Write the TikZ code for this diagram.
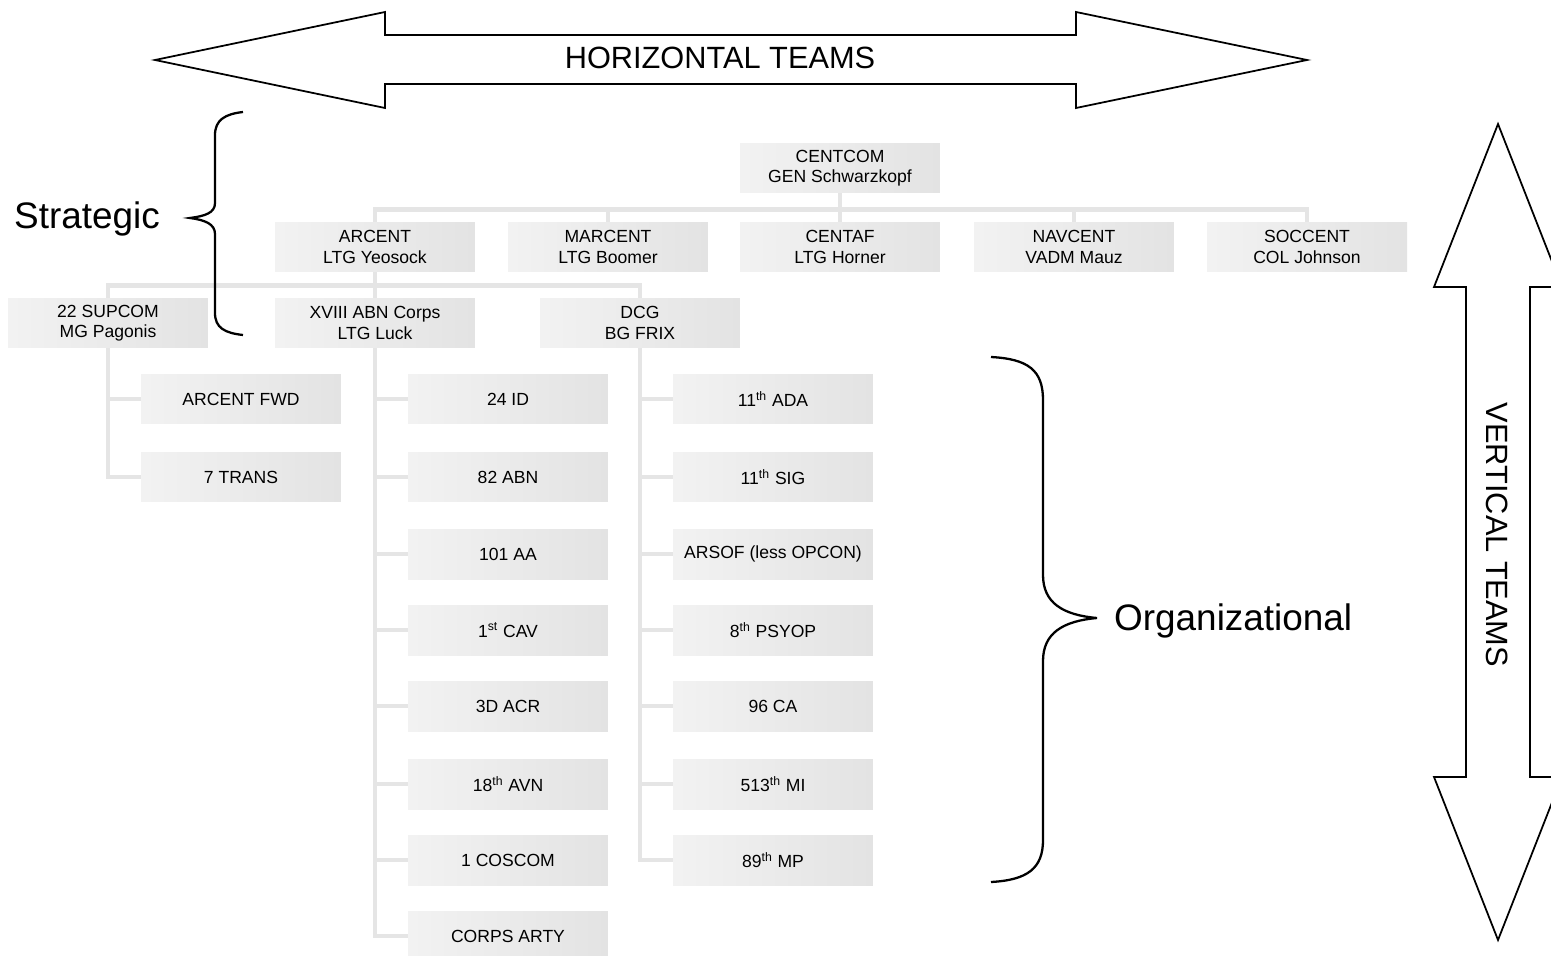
\documentclass[tikz,border=0pt]{standalone}
\usepackage{fontspec}
\setmainfont{Liberation Sans}

\tikzset{
  unit/.style={rectangle, left color=black!5, right color=black!11,
    minimum width=4cm, minimum height=1cm, inner sep=1pt, align=center,
    font=\fontsize{10}{11.5}\selectfont},
  link/.style={draw=black!10, line width=2.6pt},
  outline/.style={draw=black, line width=1pt, line join=miter},
  bracket/.style={draw=black, line width=1.3pt},
}

\begin{document}
\begin{tikzpicture}[x=0.02cm, y=-0.02cm]

    % Page frame, in pixels of the reference
    \useasboundingbox (0,0) rectangle (1551,956);
    \clip (0,0) rectangle (1551,956);

    % Horizontal double arrow
    \draw[outline] (155,60) -- (385,12) -- (385,35) -- (1076,35) -- (1076,12)
        -- (1307,60) -- (1076,108) -- (1076,84) -- (385,84) -- (385,108) -- cycle;
    \node[font=\fontsize{17.5}{20}\selectfont] (htext) at (720,58) {HORIZONTAL TEAMS};

    % Vertical double arrow (runs off the right edge)
    \draw[outline] (1498,124) -- (1562,287) -- (1530,287) -- (1530,777) -- (1562,777)
        -- (1498,940) -- (1434,777) -- (1466,777) -- (1466,287) -- (1434,287) -- cycle;
    \node[rotate=-90, font=\fontsize{17.5}{20}\selectfont] (vtext) at (1497,535) {VERTICAL TEAMS};

    % Top of the chart
    \node[unit] (centcom) at (840,168) {CENTCOM\\GEN Schwarzkopf};

    % Components
    \node[unit] (arcent)  at (375,247)  {ARCENT\\LTG Yeosock};
    \node[unit] (marcent) at (608,247)  {MARCENT\\LTG Boomer};
    \node[unit] (centaf)  at (840,247)  {CENTAF\\LTG Horner};
    \node[unit] (navcent) at (1074,247) {NAVCENT\\VADM Mauz};
    \node[unit] (soccent) at (1307,247) {SOCCENT\\COL Johnson};

    % Under ARCENT
    \node[unit] (supcom) at (108,323) {22 SUPCOM\\MG Pagonis};
    \node[unit] (corps)  at (375,323) {XVIII ABN Corps\\LTG Luck};
    \node[unit] (dcg)    at (640,323) {DCG\\BG FRIX};

    % Under 22 SUPCOM
    \node[unit] (fwd)   at (241,399) {ARCENT FWD};
    \node[unit] (trans) at (241,477) {7 TRANS};

    % Under XVIII ABN Corps
    \node[unit] (id)     at (508,399) {24 ID};
    \node[unit] (abn)    at (508,477) {82 ABN};
    \node[unit] (aa)     at (508,554) {101 AA};
    \node[unit] (cav)    at (508,630) {1\textsuperscript{st} CAV};
    \node[unit] (acr)    at (508,706) {3D ACR};
    \node[unit] (avn)    at (508,784) {18\textsuperscript{th} AVN};
    \node[unit] (coscom) at (508,860) {1 COSCOM};
    \node[unit] (arty)   at (508,936) {CORPS ARTY};

    % Under DCG
    \node[unit] (ada)   at (773,399) {11\textsuperscript{th} ADA};
    \node[unit] (sig)   at (773,477) {11\textsuperscript{th} SIG};
    \node[unit] (arsof) at (773,554) {ARSOF (less OPCON)};
    \node[unit] (psyop) at (773,630) {8\textsuperscript{th} PSYOP};
    \node[unit] (ca)    at (773,706) {96 CA};
    \node[unit] (mi)    at (773,784) {513\textsuperscript{th} MI};
    \node[unit] (mp)    at (773,860) {89\textsuperscript{th} MP};

    % CENTCOM to the components
    \draw[link] (centcom.south) -- ++(0,16) -| (arcent.north);
    \draw[link] (centcom.south) -- ++(0,16) -| (marcent.north);
    \draw[link] (centcom.south) -- (centaf.north);
    \draw[link] (centcom.south) -- ++(0,16) -| (navcent.north);
    \draw[link] (centcom.south) -- ++(0,16) -| (soccent.north);

    % ARCENT to its commands
    \draw[link] (arcent.south) -- ++(0,13) -| (supcom.north);
    \draw[link] (arcent.south) -- (corps.north);
    \draw[link] (arcent.south) -- ++(0,13) -| (dcg.north);

    % 22 SUPCOM units
    \draw[link] (supcom.south) |- (fwd.west);
    \draw[link] (supcom.south) |- (trans.west);

    % XVIII ABN Corps units
    \draw[link] (corps.south) |- (id.west);
    \draw[link] (corps.south) |- (abn.west);
    \draw[link] (corps.south) |- (aa.west);
    \draw[link] (corps.south) |- (cav.west);
    \draw[link] (corps.south) |- (acr.west);
    \draw[link] (corps.south) |- (avn.west);
    \draw[link] (corps.south) |- (coscom.west);
    \draw[link] (corps.south) |- (arty.west);

    % DCG units
    \draw[link] (dcg.south) |- (ada.west);
    \draw[link] (dcg.south) |- (sig.west);
    \draw[link] (dcg.south) |- (arsof.west);
    \draw[link] (dcg.south) |- (psyop.west);
    \draw[link] (dcg.south) |- (ca.west);
    \draw[link] (dcg.south) |- (mi.west);
    \draw[link] (dcg.south) |- (mp.west);

    % Strategic brace and label
    \draw[bracket] (243,112) .. controls (225,114) and (215,120) .. (215,135)
        -- (215,203) .. controls (215,213) and (205,216) .. (190,218)
        .. controls (205,220) and (215,224) .. (215,234)
        -- (215,313) .. controls (215,328) and (225,333) .. (243,335);
    \node[anchor=west, font=\fontsize{21}{24}\selectfont] (strategic) at (8,219) {Strategic};

    % Organizational brace and label
    \draw[bracket] (991,357) .. controls (1028,359) and (1043,370) .. (1043,400)
        -- (1043,575) .. controls (1043,603) and (1063,615) .. (1097,618)
        .. controls (1063,621) and (1043,633) .. (1043,661)
        -- (1043,840) .. controls (1043,868) and (1028,880) .. (991,882);
    \node[anchor=west, font=\fontsize{21}{24}\selectfont] (organizational) at (1108,621) {Organizational};

\end{tikzpicture}
\end{document}
